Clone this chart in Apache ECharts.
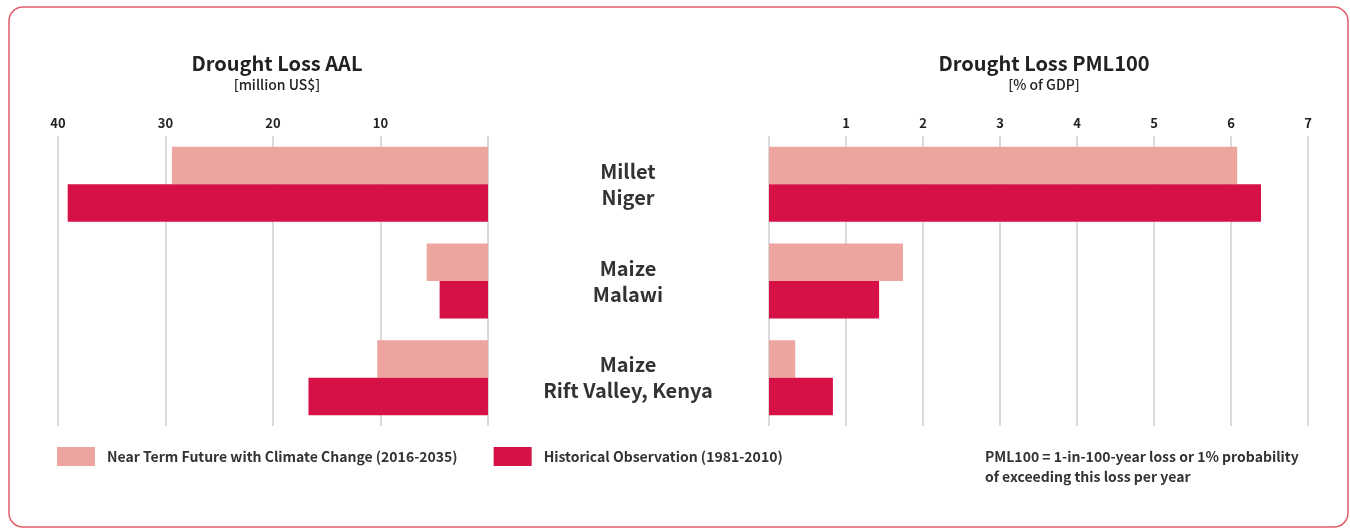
<!DOCTYPE html>
<html><head><meta charset="utf-8">
<script src="https://cdn.jsdelivr.net/npm/echarts@6/dist/echarts.min.js"></script>
<style>html,body{margin:0;padding:0;background:#fff;}#c{width:1350px;height:528px;}</style>
</head><body><div id="c"></div>
<script>
const categories = ['Millet\nNiger', 'Maize\nMalawi', 'Maize\nRift Valley, Kenya'];
const seriesNames = ['Near Term Future with Climate Change (2016-2035)', 'Historical Observation (1981-2010)'];
const aalNearTerm = [29.4, 5.7, 10.3];
const aalHistorical = [39.1, 4.5, 16.7];
const pmlNearTerm = [6.08, 1.74, 0.34];
const pmlHistorical = [6.39, 1.43, 0.83];
const aalTicks = [10, 20, 30, 40];
const pmlTicks = [1, 2, 3, 4, 5, 6, 7];

const FONT = '"Noto Sans CJK SC", "Noto Sans", sans-serif';
const colors = ['#eea49f', '#d61145'];
const chart = echarts.init(document.getElementById('c'), null, {renderer: 'canvas'});

function xAxisCfg(grid, max, ticks, inverse) {
  return {
    type: 'value', gridIndex: grid, min: 0, max: max, interval: ticks[1] - ticks[0],
    inverse: inverse, position: 'top',
    axisLine: {show: false}, axisTick: {show: false},
    axisLabel: {
      color: '#222', fontFamily: FONT, fontSize: 13, fontWeight: 'bold', margin: 6,
      formatter: v => ticks.indexOf(v) >= 0 ? String(v) : ''
    },
    splitLine: {show: true, lineStyle: {color: '#cfcfcf', width: 1.5}}
  };
}

const barCommon = {type: 'bar', barWidth: 37.5, barGap: '0%', barCategoryGap: 0};

chart.setOption({
  animation: false,
  graphic: [{
    type: 'rect', shape: {x: 9, y: 7, width: 1339, height: 520, r: 14},
    style: {fill: 'none', stroke: '#e1606b', lineWidth: 1.5}, silent: true
  }, {
    type: 'text', left: 985, top: 447,
    style: {
      text: 'PML100 = 1-in-100-year loss or 1% probability\nof exceeding this loss per year',
      fontFamily: FONT, fontSize: 14, fontWeight: 'bold', fill: '#333', lineHeight: 20
    }
  }],
  title: [{
    text: 'Drought Loss AAL', subtext: '[million US$]', left: 272, top: 48, textAlign: 'center', itemGap: 5,
    textStyle: {fontFamily: FONT, fontSize: 20, fontWeight: 'bold', color: '#222'},
    subtextStyle: {fontFamily: FONT, fontSize: 14, fontWeight: 500, color: '#222'}
  }, {
    text: 'Drought Loss PML100', subtext: '[% of GDP]', left: 1039, top: 48, textAlign: 'center', itemGap: 5,
    textStyle: {fontFamily: FONT, fontSize: 20, fontWeight: 'bold', color: '#222'},
    subtextStyle: {fontFamily: FONT, fontSize: 14, fontWeight: 500, color: '#222'}
  }],
  legend: {
    left: 57, top: 447, padding: 0, itemWidth: 38, itemHeight: 19, itemGap: 36, icon: 'rect',
    data: seriesNames,
    textStyle: {fontFamily: FONT, fontSize: 14, fontWeight: 'bold', color: '#333', padding: [0, 0, 0, 7]}
  },
  grid: [
    {left: 58, right: 862, top: 136, bottom: 102},
    {left: 769, right: 42, top: 136, bottom: 102}
  ],
  xAxis: [xAxisCfg(0, 40, aalTicks, true), xAxisCfg(1, 7, pmlTicks, false)],
  yAxis: [{
    type: 'category', gridIndex: 0, data: categories, inverse: true, position: 'right',
    axisLine: {show: false}, axisTick: {show: false}, axisLabel: {show: false}, splitLine: {show: false}
  }, {
    type: 'category', gridIndex: 1, data: categories, inverse: true,
    axisLine: {show: false}, axisTick: {show: false}, splitLine: {show: false},
    axisLabel: {align: 'center', margin: 141, fontFamily: FONT, fontSize: 20, fontWeight: 'bold', color: '#333', lineHeight: 26, padding: [0, 0, 4, 0]}
  }],
  series: [
    Object.assign({name: seriesNames[0], xAxisIndex: 0, yAxisIndex: 0, data: aalNearTerm, itemStyle: {color: colors[0]}}, barCommon),
    Object.assign({name: seriesNames[1], xAxisIndex: 0, yAxisIndex: 0, data: aalHistorical, itemStyle: {color: colors[1]}}, barCommon),
    Object.assign({name: seriesNames[0], xAxisIndex: 1, yAxisIndex: 1, data: pmlNearTerm, itemStyle: {color: colors[0]}}, barCommon),
    Object.assign({name: seriesNames[1], xAxisIndex: 1, yAxisIndex: 1, data: pmlHistorical, itemStyle: {color: colors[1]}}, barCommon)
  ]
});
</script></body></html>
